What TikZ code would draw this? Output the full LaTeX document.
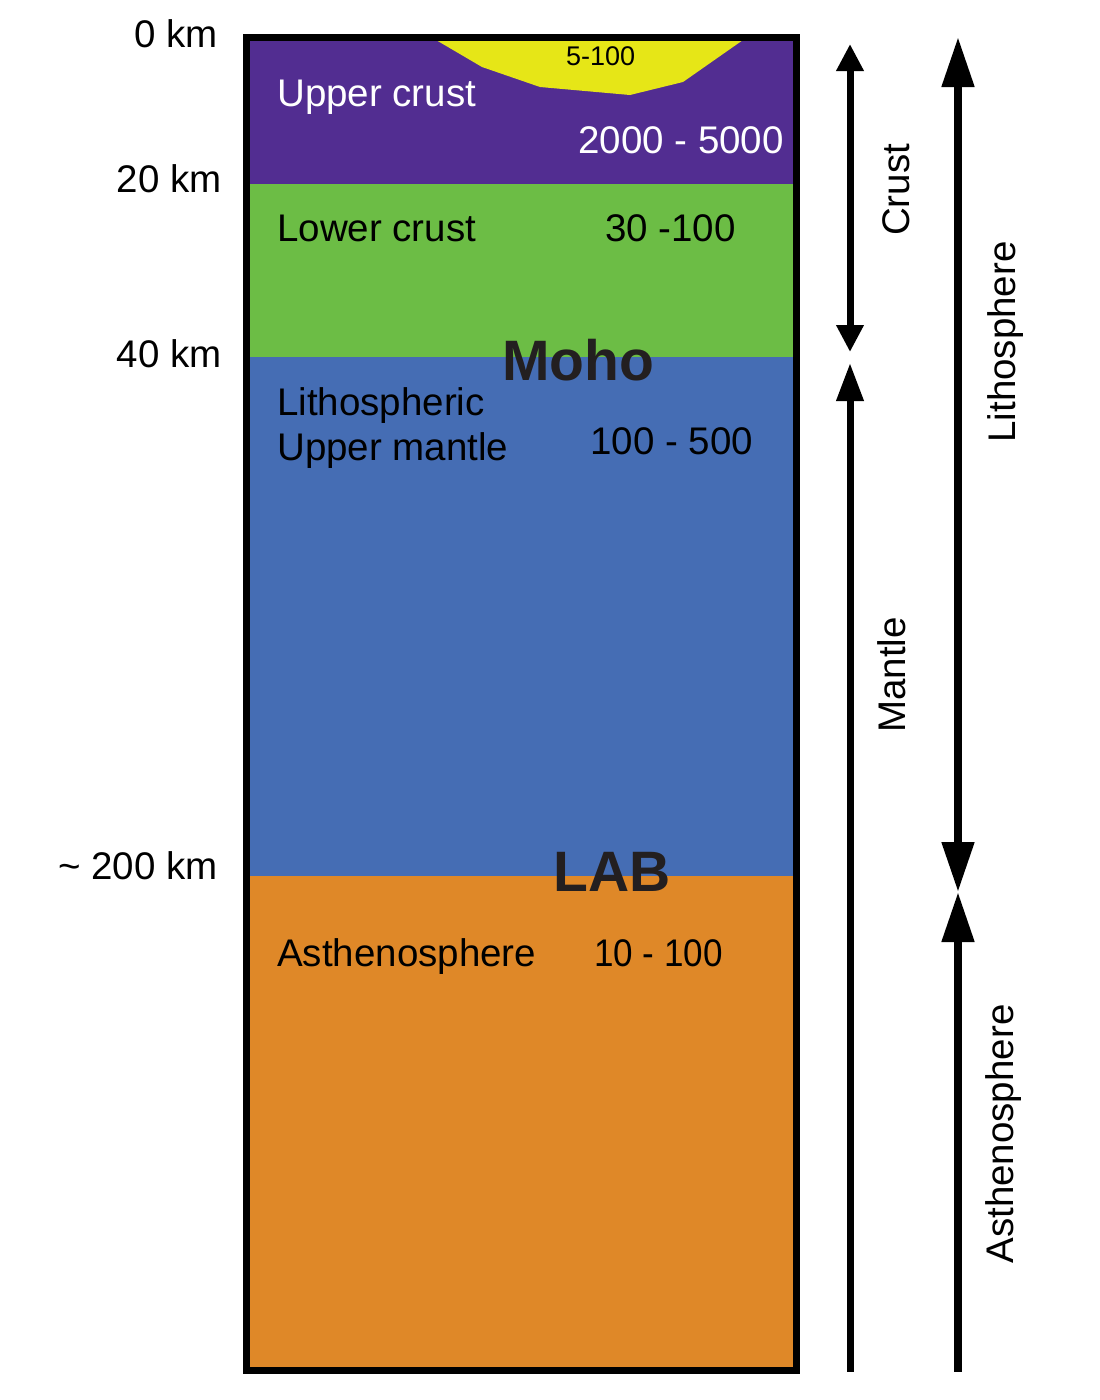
\documentclass[tikz,border=0pt]{standalone}
\usepackage{fontspec}
\setmainfont{Liberation Sans}
\usetikzlibrary{arrows.meta}
\definecolor{cpurple}{HTML}{522D91}
\definecolor{cgreen}{HTML}{6CBD45}
\definecolor{cblue}{HTML}{456DB4}
\definecolor{corange}{HTML}{DF8828}
\definecolor{cyellow}{HTML}{E6E617}
\definecolor{cdark}{HTML}{231F20}
\begin{document}
\begin{tikzpicture}[x=1pt,y=-1pt,
  lbl/.style={inner sep=0pt,font=\fontsize{38.5}{46}\selectfont},
  big/.style={inner sep=0pt,font=\fontsize{57}{66}\selectfont\bfseries,text=cdark},
  small/.style={inner sep=0pt,font=\fontsize{27}{32}\selectfont},
  shaft/.style={line width=7pt},
  shaftB/.style={line width=8pt}]
\useasboundingbox (0,0) rectangle (1100,1400);
% layers
\fill[cpurple] (246,37) rectangle (797,184);
\fill[cgreen] (246,184) rectangle (797,357);
\fill[cblue] (246,357) rectangle (797,876);
\fill[corange] (246,876) rectangle (797,1371);
\fill[cyellow] (436,40) -- (482,67) -- (540,87) -- (630,95) -- (683,82) -- (743,40) -- cycle;
% frame
\draw[line width=7pt] (246.5,37.5) rectangle (796.5,1370.5);
% depth labels
\node[lbl,anchor=base east] (d0) at (218,47) {0 km};
\node[lbl,anchor=base east] (d20) at (222,192) {20 km};
\node[lbl,anchor=base east] (d40) at (222,367) {40 km};
\node[lbl,anchor=base east] (d200) at (218,879) {\textasciitilde\ 200 km};
% layer texts
\node[lbl,anchor=base west,text=white] (uc) at (277,106) {Upper crust};
\node[lbl,anchor=base west,text=white] (ucv) at (578,153) {2000 - 5000};
\node[small,anchor=base west] (sed) at (566,65) {5-100};
\node[lbl,anchor=base west] (lc) at (277,241) {Lower crust};
\node[lbl,anchor=base west] (lcv) at (605,241) {30 -100};
\node[big,anchor=base west] (moho) at (502,380) {Moho};
\node[lbl,anchor=base west] (lm1) at (277,415) {Lithospheric};
\node[lbl,anchor=base west] (lm2) at (277,460) {Upper mantle};
\node[lbl,anchor=base west] (lmv) at (590,454) {100 - 500};
\node[big,anchor=base west] (lab) at (553,891) {LAB};
\node[lbl,anchor=base west] (as) at (277,966) {Asthenosphere};
\node[lbl,anchor=base west] (asv) at (594,966) {\scalebox{0.91}[1]{10 - 100}};
% arrow end points
\coordinate (cT) at (850,44);
\coordinate (cB) at (850,352);
\coordinate (mT) at (850,363);
\coordinate (mB) at (850,1372);
\coordinate (lT) at (958,37);
\coordinate (lB) at (958,892);
\coordinate (aT) at (958,892);
\coordinate (aB) at (958,1372);
\draw[shaft,{Triangle[width=26pt,length=27pt]}-{Triangle[width=26pt,length=27pt]}] (cT) -- (cB);
\draw[shaft,{Triangle[width=26pt,length=38pt]}-] (mT) -- (mB);
\draw[shaftB,{Triangle[width=31pt,length=50pt]}-{Triangle[width=31pt,length=50pt]}] (lT) -- (lB);
\draw[shaftB,{Triangle[width=31pt,length=50pt]}-] (aT) -- (aB);
% vertical labels
\node[lbl,rotate=90,anchor=base] (crust) at (909,190) {Crust};
\node[lbl,rotate=90,anchor=base] (mantle) at (905,675) {Mantle};
\node[lbl,rotate=90,anchor=base] (litho) at (1015,342) {Lithosphere};
\node[lbl,rotate=90,anchor=base] (astheno) at (1013,1134) {Asthenosphere};
\end{tikzpicture}
\end{document}
